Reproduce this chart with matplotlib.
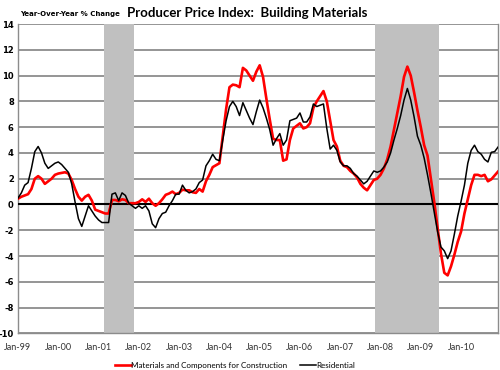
import numpy as np
import matplotlib.pyplot as plt

# monthly year-over-year % change, Jan-1999 .. Dec-2010
materials = [
    0.45, 0.6, 0.7, 0.8, 1.2, 2.0, 2.2, 2.0, 1.6, 1.8, 2.0, 2.3,
    2.4, 2.45, 2.5, 2.4, 1.9, 1.2, 0.6, 0.3, 0.6, 0.75, 0.3, -0.4,
    -0.5, -0.6, -0.7, -0.7, 0.35, 0.35, 0.25, 0.4, 0.35, 0.1, 0.1, 0.1,
    0.2, 0.4, 0.2, 0.45, 0.1, -0.1, 0.1, 0.4, 0.75, 0.85, 1.0, 0.8,
    0.9, 1.15, 1.1, 1.1, 0.95, 0.9, 1.2, 1.0, 1.8, 2.3, 2.9, 3.05,
    3.2, 5.3, 7.4, 9.1, 9.3, 9.25, 9.1, 10.6, 10.4, 10.0, 9.6, 10.3,
    10.8, 9.9, 8.2, 6.6, 5.1, 5.0, 5.0, 3.4, 3.5, 5.0, 5.9, 6.1,
    6.3, 5.9, 6.0, 6.3, 7.5, 8.0, 8.4, 8.8, 8.0, 6.5, 5.0, 4.5,
    3.4, 3.0, 2.9, 2.6, 2.4, 2.1, 1.6, 1.3, 1.1, 1.5, 1.9, 2.0,
    2.3, 2.8, 3.5, 4.5, 5.8, 7.1, 8.4, 9.9, 10.7, 10.0, 8.7, 7.3,
    6.0, 4.6, 3.8, 2.0, 0.2, -1.8, -3.8, -5.3, -5.5, -4.8, -3.9, -2.9,
    -2.1, -0.7, 0.4, 1.5, 2.3, 2.3, 2.2, 2.3, 1.8, 1.95, 2.25, 2.55,
]
residential = [
    0.5, 0.9, 1.5, 1.7, 2.8, 4.1, 4.5, 4.0, 3.2, 2.8, 3.0, 3.2,
    3.3, 3.1, 2.8, 2.5, 1.6, 0.2, -1.1, -1.7, -0.9, -0.1, -0.5, -0.9,
    -1.2, -1.4, -1.4, -1.4, 0.8, 0.9, 0.3, 0.9, 0.7, 0.1, -0.1, -0.3,
    -0.1, -0.3, -0.1, -0.5, -1.5, -1.8, -1.1, -0.7, -0.6, -0.1, 0.3, 0.8,
    0.8, 1.5, 1.1, 0.9, 1.0, 1.2, 1.7, 1.9, 3.0, 3.4, 3.9, 3.5,
    3.4, 5.0, 6.5, 7.6, 8.0, 7.6, 6.9, 7.9, 7.3, 6.7, 6.2, 7.2,
    8.1, 7.5, 6.7, 5.8, 4.6, 5.1, 5.5, 4.6, 5.0, 6.5, 6.6, 6.7,
    7.1, 6.4, 6.4, 6.8, 7.8, 7.6, 7.7, 7.8, 5.9, 4.3, 4.6, 4.2,
    3.3, 3.0, 3.0, 2.8, 2.4, 2.2, 1.9, 1.6, 1.8, 2.2, 2.6, 2.5,
    2.6, 2.9, 3.3, 4.0, 5.0, 5.9, 6.9, 8.1, 9.0, 8.1, 6.8, 5.3,
    4.6, 3.6, 2.3, 0.9, -0.6, -2.1, -3.3, -3.6, -4.2, -3.6, -2.3, -0.9,
    0.25, 1.5, 3.2, 4.2, 4.6, 4.1, 3.9, 3.5, 3.3, 4.05, 4.1, 4.45,
]
year_labels = ['Jan-99', 'Jan-00', 'Jan-01', 'Jan-02', 'Jan-03', 'Jan-04',
               'Jan-05', 'Jan-06', 'Jan-07', 'Jan-08', 'Jan-09', 'Jan-10']
# recessions as (first month, last month) indices
recessions = [(26, 34), (107, 125)]

months = np.arange(len(materials))

fig = plt.figure(figsize=(5, 3.7), dpi=100)
ax = fig.add_axes([0.036, 0.099, 0.96, 0.836])

for y in range(-10, 15, 2):
    if y != 0:
        ax.axhline(y, color='#8c8c8c', lw=1.3, zorder=1)
for s, e in recessions:
    ax.axvspan(s - 0.5, e + 0.5, color='#c0c0c0', lw=0, zorder=2)
ax.axhline(0, color='black', lw=1.5, zorder=3)

ax.plot(months, materials, color='#ff0000', lw=1.9, zorder=4,
        label='Materials and Components for Construction')
ax.plot(months, residential, color='black', lw=1.1, zorder=5,
        label='Residential')

ax.set_xlim(0, 143)
ax.set_ylim(-10, 14)
ax.set_yticks(range(-10, 15, 2))
ax.set_yticklabels([str(v) for v in range(-10, 15, 2)],
                   fontsize=6, fontweight='bold')
ax.set_xticks(np.arange(len(year_labels)) * 12)
ax.set_xticklabels(year_labels, fontsize=6.5, color='#333333', family='Lato')
ax.tick_params(length=0, pad=3)
ax.tick_params(axis='x', pad=7)

for side in ['left', 'right', 'bottom']:
    ax.spines[side].set_color('#8c8c8c')
    ax.spines[side].set_linewidth(1.0)
ax.spines['top'].set_visible(False)

fig.text(0.495, 0.965, 'Producer Price Index:  Building Materials',
         ha='center', va='center', fontsize=9.5, fontweight='bold',
         family='Lato')
fig.text(0.04, 0.962, 'Year-Over-Year % Change', ha='left', va='center',
         fontsize=5.0, fontweight='bold')

fig.legend(loc='center', bbox_to_anchor=(0.47, 0.012), ncol=2, frameon=False,
           prop={'family': 'Lato', 'size': 5.8},
           handlelength=2.0, handletextpad=0.0, columnspacing=1.5)

fig.savefig('out.png', dpi=100)
